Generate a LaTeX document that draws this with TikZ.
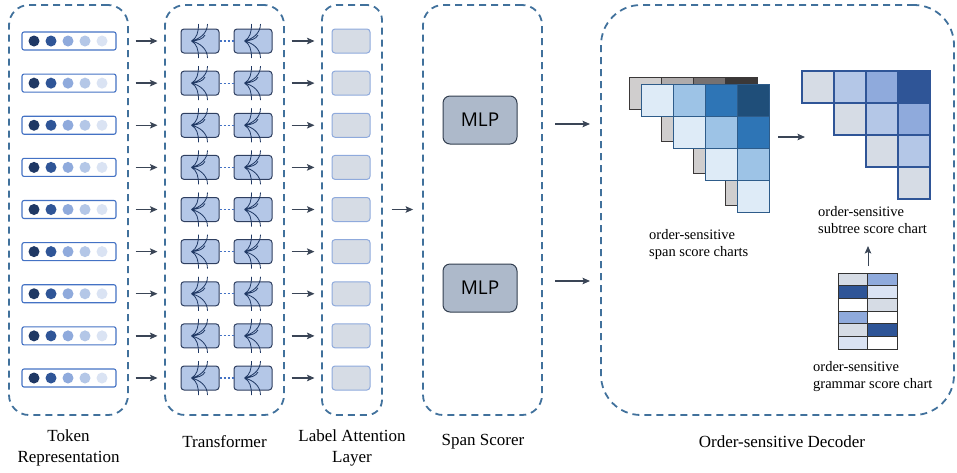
\documentclass[tikz,border=0pt]{standalone}
\usepackage{fontspec}
\setmainfont{Liberation Serif}
\newfontfamily\mlpfont{Open Sans}
\usetikzlibrary{arrows.meta}
\definecolor{grpc}{HTML}{41719C}
\definecolor{arrc}{HTML}{3A4556}
\definecolor{dA}{HTML}{1F3864}
\definecolor{dB}{HTML}{2F5597}
\definecolor{dC}{HTML}{8FAADC}
\definecolor{dD}{HTML}{B4C7E7}
\definecolor{dE}{HTML}{DAE3F3}
\definecolor{barc}{HTML}{4472C4}
\definecolor{tfill}{HTML}{B4C7E7}
\definecolor{tdraw}{HTML}{2F3F60}
\definecolor{lfill}{HTML}{D6DCE5}
\definecolor{ldraw}{HTML}{8FAADC}
\definecolor{mfill}{HTML}{ADB9CA}
\definecolor{mdraw}{HTML}{333F50}
\definecolor{g0}{HTML}{D0CECE}
\definecolor{g1}{HTML}{AFABAB}
\definecolor{g2}{HTML}{767171}
\definecolor{g3}{HTML}{3B3838}
\definecolor{b0}{HTML}{DEEBF7}
\definecolor{b1}{HTML}{9DC3E6}
\definecolor{b2}{HTML}{2E75B6}
\definecolor{b3}{HTML}{1F4E79}
\definecolor{s0}{HTML}{D6DCE5}
\definecolor{s1}{HTML}{B4C7E7}
\definecolor{s2}{HTML}{8FAADC}
\definecolor{s3}{HTML}{2F5597}
\definecolor{bedge}{HTML}{2E5C8A}
\begin{document}
\begin{tikzpicture}[x=1pt,y=-1pt,
  grp/.style={draw=grpc, line width=1.8pt, dash pattern=on 7pt off 5pt, rounded corners=20pt, inner sep=0pt},
  tokbar/.style={draw=barc, fill=white, line width=1.1pt, rounded corners=2pt, minimum width=94pt, minimum height=18pt, inner sep=0pt},
  tblock/.style={draw=tdraw, fill=tfill, line width=1pt, rounded corners=3pt, minimum width=38pt, minimum height=24pt, inner sep=0pt},
  lblock/.style={draw=ldraw, fill=lfill, line width=1pt, rounded corners=3pt, minimum width=38pt, minimum height=24pt, inner sep=0pt},
  mlp/.style={draw=mdraw, fill=mfill, line width=1pt, rounded corners=7pt, minimum width=74pt, minimum height=48pt, inner sep=0pt, font=\mlpfont\fontsize{19}{22}\selectfont},
  arr/.style={draw=arrc, line width=1.3pt, -{Stealth[length=7.5pt,width=6.5pt,inset=1.5pt]}},
  dotline/.style={draw=barc, line width=1.2pt, dash pattern=on 2.5pt off 1.5pt},
  gcell/.style={draw=g3, line width=0.8pt, minimum width=32pt, minimum height=32pt, inner sep=0pt},
  bcell/.style={draw=bedge, line width=1pt, minimum width=32pt, minimum height=32pt, inner sep=0pt},
  scell/.style={draw=s3, line width=1.1pt, minimum width=32pt, minimum height=32pt, inner sep=0pt},
  mcell/.style={draw=black!80, line width=1pt, minimum width=29.5pt, minimum height=12.67pt, inner sep=0pt},
  small/.style={font=\fontsize{14.5}{17}\selectfont, align=left, inner sep=0pt},
  big/.style={font=\fontsize{17}{21}\selectfont, align=center, inner sep=0pt},
  fan/.pic={
    \draw[draw=dA, line width=0.8pt]
      (-8.5,0) .. controls (-3,-3) and (-1.5,-9) .. (-1.5,-17)
      (-8.5,0) .. controls (0,-2) and (7.5,-8) .. (7.5,-17)
      (-8.5,0) .. controls (-3,3) and (-1.5,9) .. (-1.5,17)
      (-8.5,0) .. controls (0,2) and (7.5,8) .. (7.5,17)
      (-8.5,0) .. controls (-2,-0.5) and (3,-2) .. (5,-6);
  }]
\useasboundingbox (0,0) rectangle (957,472);
% group boxes
\node[grp, minimum width=119pt, minimum height=410pt] (tokgrp) at (68.5,210) {};
\node[grp, minimum width=119pt, minimum height=410pt] (trgrp) at (224.5,210) {};
\node[grp, minimum width=60pt, minimum height=410pt, rounded corners=15pt] (labgrp) at (352,210) {};
\node[grp, minimum width=119pt, minimum height=410pt] (spangrp) at (482.5,210) {};
\node[grp, minimum width=353pt, minimum height=410pt, rounded corners=40pt] (decgrp) at (777.5,210) {};
% rows
\foreach \i in {0,...,8} {
  \pgfmathsetmacro{\yy}{41+42.125*\i}
  \node[tokbar] (tok\i) at (69,\yy) {};
  \fill[dA] (34,\yy) circle (5.5);
  \fill[dB] (51,\yy) circle (5.5);
  \fill[dC] (68,\yy) circle (5.5);
  \fill[dD] (85,\yy) circle (5.5);
  \fill[dE] (102,\yy) circle (5.5);
  \node[tblock] (ta\i) at (200,\yy) {};
  \pic at (ta\i) {fan};
  \node[tblock] (tb\i) at (253,\yy) {};
  \pic at (tb\i) {fan};
  \draw[dotline] (ta\i.east) -- (tb\i.west);
  \node[lblock] (lb\i) at (351,\yy) {};
  \draw[arr, shorten <=19pt, shorten >=23pt] (tok\i) -- (ta\i);
  \draw[arr, shorten <=19pt, shorten >=17pt] (tb\i) -- (lb\i);
}
% label -> span scorer
\draw[arr, shorten <=21pt, shorten >=9pt] (lb4.east) -- (spangrp.west |- lb4.east);
% MLPs
\node[mlp] (mlp1) at (480,120) {MLP};
\node[mlp] (mlp2) at (480,288) {MLP};
\coordinate (o1) at (555,124);
\coordinate (i1) at (590,124);
\coordinate (o2) at (555,281);
\coordinate (i2) at (590,281);
\draw[arr] (o1) -- (i1);
\draw[arr] (o2) -- (i2);
% span score charts: gray back layer
\foreach \r in {0,...,3} {
  \foreach \c in {\r,...,3} {
    \pgfmathtruncatemacro{\d}{\c-\r}
    \node[gcell, fill=g\d] (gc\r\c) at (645+32*\c, 93+32*\r) {};
  }
}
\foreach \r in {0,...,3} {
  \foreach \c in {\r,...,3} {
    \pgfmathtruncatemacro{\d}{\c-\r}
    \node[bcell, fill=b\d] (bc\r\c) at (657+32*\c, 100+32*\r) {};
  }
}
% subtree chart
\foreach \r in {0,...,3} {
  \foreach \c in {\r,...,3} {
    \pgfmathtruncatemacro{\d}{\c-\r}
    \node[scell, fill=s\d] (sc\r\c) at (818+32*\c, 87+32*\r) {};
  }
}
\coordinate (o3) at (778,137);
\coordinate (i3) at (805,137);
\draw[arr] (o3) -- (i3);
% grammar chart
\foreach \r/\ca/\cb in {0/s0/s2, 1/s3/dE, 2/white/s0, 3/s2/white, 4/s0/s3, 5/dE/white} {
  \node[mcell, fill=\ca] (ga\r) at (852.75, 279.33+12.67*\r) {};
  \node[mcell, fill=\cb] (gb\r) at (882.25, 279.33+12.67*\r) {};
}
\coordinate (o4) at (868,266);
\coordinate (i4) at (868,246);
\draw[arr, line width=1pt] (o4) -- (i4);
% small labels
\node[small, anchor=west] (spanlbl) at (649,244.5) {order-sensitive\\span score charts};
\node[small, anchor=west] (subtlbl) at (818,220.5) {order-sensitive\\subtree score chart};
\node[small, anchor=west] (gramlbl) at (813,376.5) {order-sensitive\\grammar score chart};
% bottom labels
\node[big] (t1) at (68.5,447.5) {Token\\Representation};
\node[big] (t2) at (224.5,442) {Transformer};
\node[big] (t3) at (352,447.5) {Label Attention\\Layer};
\node[big] (t4) at (483,442) {Span Scorer};
\node[big] (t5) at (782,442) {Order-sensitive Decoder};
\end{tikzpicture}
\end{document}
